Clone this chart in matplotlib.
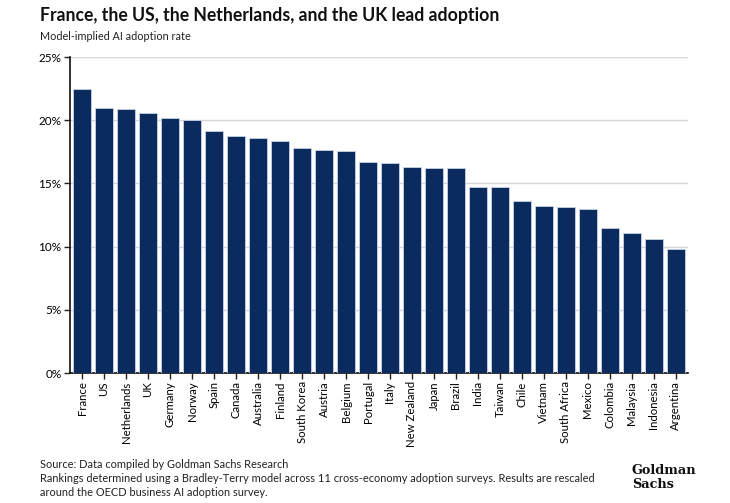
import matplotlib
matplotlib.use('Agg')
import matplotlib.pyplot as plt
from matplotlib.ticker import FuncFormatter

# Data
countries = ['France', 'US', 'Netherlands', 'UK', 'Germany', 'Norway', 'Spain', 'Canada',
             'Australia', 'Finland', 'South Korea', 'Austria', 'Belgium', 'Portugal', 'Italy',
             'New Zealand', 'Japan', 'Brazil', 'India', 'Taiwan', 'Chile', 'Vietnam',
             'South Africa', 'Mexico', 'Colombia', 'Malaysia', 'Indonesia', 'Argentina']
adoption = [22.5, 20.95, 20.85, 20.58, 20.16, 20.0, 19.18, 18.78,
            18.62, 18.39, 17.8, 17.64, 17.59, 16.72, 16.62,
            16.32, 16.24, 16.2, 14.73, 14.7, 13.62, 13.2,
            13.15, 12.99, 11.48, 11.06, 10.58, 9.79]
y_ticks = [0, 5, 10, 15, 20, 25]

plt.rcParams['font.family'] = ['Lato', 'DejaVu Sans']

fig = plt.figure(figsize=(7.3, 5.03), dpi=100)
ax = fig.add_axes([70 / 730, 1 - 373 / 503, 618 / 730, 316 / 503])

ax.bar(range(len(countries)), adoption, width=0.82, color='#0b2b5f',
       edgecolor='#c8d3e6', linewidth=0.6, zorder=3)

ax.set_xlim(-0.55, len(countries) - 0.45)
ax.set_ylim(0, 25)
ax.set_yticks(y_ticks)
ax.yaxis.set_major_formatter(FuncFormatter(lambda v, p: f'{v:.0f}%'))
ax.set_xticks(range(len(countries)))
ax.set_xticklabels(countries, rotation=90, fontsize=8.2)
ax.tick_params(axis='y', labelsize=8.5, length=4, width=1, pad=2, color='#222222')
ax.tick_params(axis='x', length=4, width=1, pad=2, color='#222222')

ax.grid(axis='y', color='#d4d4d4', linewidth=1, zorder=0)
for side in ['top', 'right']:
    ax.spines[side].set_visible(False)
for side in ['left', 'bottom']:
    ax.spines[side].set_linewidth(1.2)
    ax.spines[side].set_color('#111111')

# Titles
fig.text(40 / 730, 1 - 15 / 503, 'France, the US, the Netherlands, and the UK lead adoption',
         fontsize=12.7, fontweight='bold', va='center', ha='left', color='#111111')
fig.text(40 / 730, 1 - 36 / 503, 'Model-implied AI adoption rate',
         fontsize=7.8, va='center', ha='left', color='#222222')

# Footnotes
fig.text(40 / 730, 1 - 465 / 503, 'Source: Data compiled by Goldman Sachs Research',
         fontsize=7.9, va='center', ha='left', color='#222222')
fig.text(40 / 730, 1 - 479 / 503,
         'Rankings determined using a Bradley-Terry model across 11 cross-economy adoption surveys. Results are rescaled',
         fontsize=7.9, va='center', ha='left', color='#222222')
fig.text(40 / 730, 1 - 493 / 503, 'around the OECD business AI adoption survey.',
         fontsize=7.9, va='center', ha='left', color='#222222')

# Logo text
fig.text(632 / 730, 1 - 470 / 503, 'Goldman', fontsize=9.3, fontweight='bold',
         family=['DejaVu Serif'], va='center', ha='left', color='#111111')
fig.text(632 / 730, 1 - 484 / 503, 'Sachs', fontsize=9.3, fontweight='bold',
         family=['DejaVu Serif'], va='center', ha='left', color='#111111')

fig.savefig('out.png', dpi=100)
